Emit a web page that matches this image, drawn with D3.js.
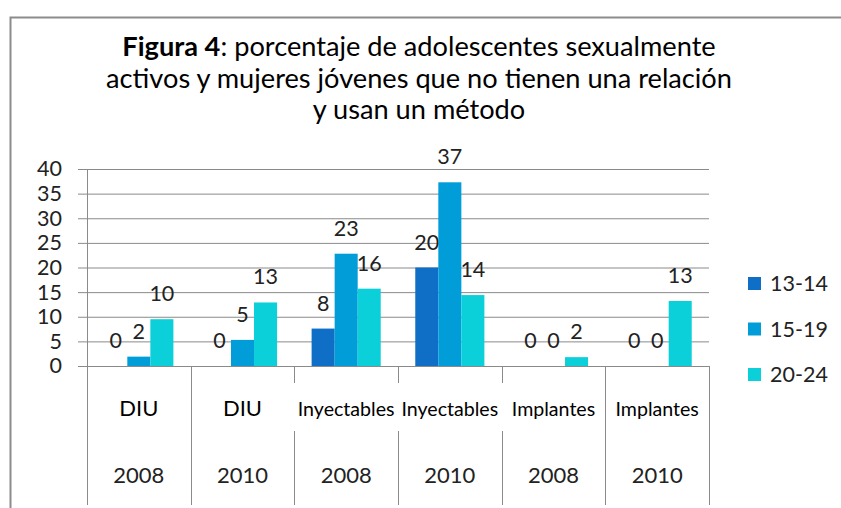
<!DOCTYPE html>
<html>
<head>
<meta charset="utf-8">
<script src="https://cdn.jsdelivr.net/npm/d3@7"></script>
<style>
  body { margin: 0; background: #fff; }
  svg text { font-family: Lato, "Open Sans", sans-serif; }
</style>
</head>
<body>
<svg id="chart"></svg>
<script>
// data
var methods = ["DIU", "DIU", "Inyectables", "Inyectables", "Implantes", "Implantes"];
var years = ["2008", "2010", "2008", "2010", "2008", "2010"];
var seriesNames = ["13-14", "15-19", "20-24"];
var s1314 = [0, 0, 7.6, 20, 0, 0];
var s1519 = [1.9, 5.3, 22.8, 37.3, 0, 0];
var s2024 = [9.5, 12.9, 15.7, 14.4, 1.8, 13.2];
var yTicks = [0, 5, 10, 15, 20, 25, 30, 35, 40];
var colors = ["#0F6FC6", "#009DD9", "#0BD0D9"];

var seriesValues = [s1314, s1519, s2024];

var svgWidth = 841, svgHeight = 508;
var svg = d3.select('#chart')
    .attr('width', svgWidth)
    .attr('height', svgHeight);

// outer frame (runs off the right / bottom edge like the source)
svg.append('rect')
    .attr('x', 10.5).attr('y', 17.5)
    .attr('width', 900).attr('height', 600)
    .attr('fill', 'none')
    .attr('stroke', '#8c8c8c')
    .attr('stroke-width', 2);

// title
var title = svg.append('text')
    .attr('text-anchor', 'middle')
    .style('font-size', '27.2px')
    .attr('fill', '#000');
var l1 = title.append('tspan').attr('x', 419).attr('y', 56);
l1.append('tspan').style('font-weight', 'bold').text('Figura 4');
l1.append('tspan').text(': porcentaje de adolescentes sexualmente');
title.append('tspan').attr('x', 419).attr('y', 88)
    .text('activos y mujeres jóvenes que no tienen una relación');
title.append('tspan').attr('x', 419).attr('y', 119)
    .text('y usan un método');

// plot area
var plotLeft = 87, plotRight = 709, plotTop = 169, zeroY = 366, axisBottom = 505;

var x0 = d3.scaleBand()
    .domain(d3.range(methods.length))
    .range([plotLeft, plotRight])
    .padding(0);

var x1 = d3.scaleBand()
    .domain(seriesNames)
    .range([0, x0.bandwidth()])
    .paddingInner(0)
    .paddingOuter(0.75);

var y = d3.scaleLinear()
    .domain([0, 40])
    .range([zeroY, plotTop]);

// gridlines
svg.append('g')
    .attr('transform', 'translate(' + plotRight + ',0)')
    .call(d3.axisLeft(y).tickValues(yTicks).tickSize(plotRight - plotLeft + 9).tickFormat(''))
    .call(g => g.select('.domain').remove())
    .call(g => g.selectAll('line').attr('stroke', '#8a8a8a'));

// y axis labels
svg.append('g')
    .attr('transform', 'translate(' + plotLeft + ',0)')
    .call(d3.axisLeft(y).tickValues(yTicks).tickSize(0).tickPadding(25))
    .call(g => g.select('.domain').remove())
    .call(g => g.selectAll('text')
        .style('font-size', '21.5px')
        .style('font-family', 'Lato, sans-serif')
        .attr('fill', '#222'));

// vertical axis line + category divider lines
svg.append('line')
    .attr('x1', plotLeft + 0.5).attr('x2', plotLeft + 0.5)
    .attr('y1', plotTop).attr('y2', axisBottom)
    .attr('stroke', '#8a8a8a');

var bounds = d3.range(1, methods.length + 1).map(i => i < methods.length ? x0(i) : plotRight);
svg.append('g').selectAll('line')
    .data(bounds)
    .enter()
    .append('line')
    .attr('x1', d => Math.round(d) + 0.5)
    .attr('x2', d => Math.round(d) + 0.5)
    .attr('y1', zeroY)
    .attr('y2', axisBottom)
    .attr('stroke', '#8a8a8a');

// bars
var groups = svg.append('g').selectAll('g')
    .data(seriesNames)
    .enter()
    .append('g')
    .attr('fill', (d, i) => colors[i]);

groups.selectAll('rect')
    .data((d, si) => seriesValues[si].map((v, ci) => ({s: d, c: ci, v: v})))
    .enter()
    .append('rect')
    .attr('x', d => x0(d.c) + x1(d.s))
    .attr('width', x1.bandwidth())
    .attr('y', d => y(d.v))
    .attr('height', d => zeroY - y(d.v));

// data labels
groups.selectAll('text')
    .data((d, si) => seriesValues[si].map((v, ci) => ({s: d, c: ci, v: v})))
    .enter()
    .append('text')
    .attr('x', d => x0(d.c) + x1(d.s) + x1.bandwidth() / 2)
    .attr('y', d => y(d.v) - 18)
    .attr('text-anchor', 'middle')
    .attr('fill', '#222')
    .style('font-size', '21.5px')
    .text(d => d3.format('.0f')(d.v));

// category labels: method row (white box breaks the dividers) and year row
var catG = svg.append('g');
methods.forEach(function(m, i) {
    var cx = x0(i) + x0.bandwidth() / 2;
    var box = catG.append('rect').attr('fill', '#fff');
    var t = catG.append('text')
        .attr('x', cx)
        .attr('y', 416)
        .attr('text-anchor', 'middle')
        .attr('fill', '#000')
        .style('font-size', '22px')
        .text(m);
    var w = t.node().getComputedTextLength();
    // long labels get shrunk a bit, like the source
    if (w > 80) {
        t.style('font-size', '19.6px');
        w = t.node().getComputedTextLength();
    }
    box.attr('x', cx - w / 2 - 5).attr('width', w + 10)
        .attr('y', 383).attr('height', 48);
});

catG.selectAll('.year')
    .data(years)
    .enter()
    .append('text')
    .attr('class', 'year')
    .attr('x', (d, i) => x0(i) + x0.bandwidth() / 2)
    .attr('y', 483)
    .attr('text-anchor', 'middle')
    .attr('fill', '#222')
    .style('font-size', '22px')
    .text(d => d);

// legend
var legend = svg.append('g').selectAll('g')
    .data(seriesNames)
    .enter()
    .append('g')
    .attr('transform', (d, i) => 'translate(748,' + (277 + i * 45.5) + ')');
legend.append('rect')
    .attr('width', 13).attr('height', 13)
    .attr('fill', (d, i) => colors[i]);
legend.append('text')
    .attr('x', 22).attr('y', 14)
    .attr('fill', '#222')
    .style('font-size', '21.5px')
    .text(d => d);
</script>
</body>
</html>
